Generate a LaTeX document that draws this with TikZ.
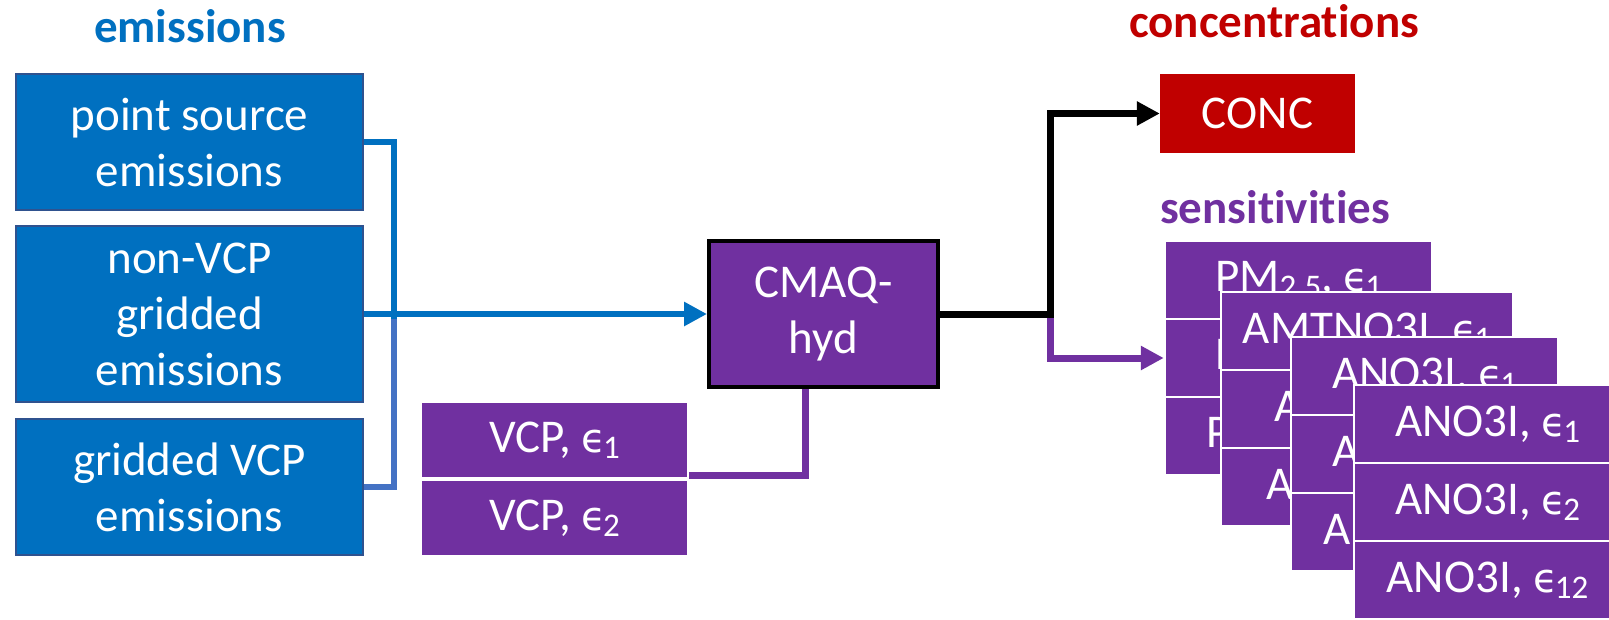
\documentclass[tikz,border=0pt]{standalone}
\usepackage{fontspec}
\setmainfont{Carlito}[Ligatures={NoCommon,NoContextual}]
\newfontfamily\epsfont{DejaVu Sans}
\usetikzlibrary{arrows.meta,calc}
\definecolor{eblue}{HTML}{0070C0}
\definecolor{eborder}{HTML}{2F528F}
\definecolor{lblue}{HTML}{4472C4}
\definecolor{ppl}{HTML}{7030A0}
\definecolor{cred}{HTML}{C00000}
\newcommand{\sbs}[1]{\raisebox{-6pt}{\fontsize{33}{33}\selectfont #1}}
\newcommand{\myeps}[1]{{\epsfont\fontsize{40}{50}\selectfont ϵ}\kern-3pt\sbs{#1}}
\begin{document}
\begin{tikzpicture}[x=1pt,y=-1pt,
  body/.style={font=\fontsize{47}{56}\selectfont, text=white, align=center, inner sep=0pt},
  ttl/.style={font=\fontsize{47}{56}\selectfont\bfseries, inner sep=0pt, anchor=base},
  ebox/.style={body, fill=eblue, draw=eborder, line width=1.5pt, minimum width=347pt},
  prow/.style={body, fill=ppl, draw=white, line width=2.5pt, minimum height=78pt},
  tip/.style={-{Triangle[length=23pt,width=23pt]}},
  bline/.style={draw=eblue, line width=6pt},
  lbline/.style={draw=lblue, line width=6pt},
  kline/.style={draw=black, line width=7pt},
  pline/.style={draw=ppl, line width=7pt}]
\clip (0,0) rectangle (1609,619);
\fill[white] (0,0) rectangle (1609,619);

% titles
\node[ttl, text=eblue] (te) at (190,42) {emissions};
\node[ttl, text=cred] (tc) at (1274,37) {concentrations};
\node[ttl, text=ppl] (ts) at (1275,223) {sensitivities};

% emission boxes
\node[ebox, minimum height=136pt] (e1) at (189.5,142) {point source\\emissions};
\node[ebox, minimum height=176pt] (e2) at (189.5,314) {non-VCP\\gridded\\emissions};
\node[ebox, minimum height=136pt] (e3) at (189.5,487) {gridded VCP\\emissions};

% model box
\node[body, fill=ppl, draw=black, line width=4pt, minimum width=229pt, minimum height=146pt] (cm) at (823.5,314) {CMAQ-\\hyd};

% VCP boxes
\node[prow, minimum width=267pt, minimum height=77pt] (v1) at (554.5,440) {VCP, \myeps{1}};
\node[prow, minimum width=267pt, minimum height=77pt] (v2) at (554.5,518) {VCP, \myeps{2}};

% CONC
\node[body, fill=cred, minimum width=195pt, minimum height=79pt] (conc) at (1257.5,113.5) {CONC};

% sensitivity stacks
\node[prow, minimum width=267pt] (s11) at (1298.5,280) {PM\sbs{2.5}, \myeps{1}};
\node[prow, minimum width=267pt] (s12) at (1298.5,358) {PM\sbs{2.5}, \myeps{2}};
\node[prow, minimum width=267pt] (s13) at (1298.5,436) {PM\sbs{2.5}, \myeps{12}};

\node[prow, minimum width=292pt] (s21) at (1367,331) {AMTNO3I, \myeps{1}};
\node[prow, minimum width=292pt] (s22) at (1367,409) {ANO3I, \myeps{2}};
\node[prow, minimum width=292pt] (s23) at (1367,487) {ANO3I, \myeps{12}};

\node[prow, minimum width=267pt] (s31) at (1424.5,376) {ANO3I, \myeps{1}};
\node[prow, minimum width=267pt] (s32) at (1424.5,454) {ANO3I, \myeps{2}};
\node[prow, minimum width=267pt] (s33) at (1424.5,532) {ANO3I, \myeps{12}};

\node[prow, minimum width=267pt] (s41) at (1487.5,424) {ANO3I, \myeps{1}};
\node[prow, minimum width=267pt] (s42) at (1487.5,502) {ANO3I, \myeps{2}};
\node[prow, minimum width=267pt] (s43) at (1487.5,580) {ANO3I, \myeps{12}};

% connectors on the left
\coordinate (j) at (394,314);
\draw[lbline] (e3.east) -| (j);
\draw[bline] (e1.east) -| ($(j)+(0,5)$);
\draw[bline, tip] (e2.east) -- (cm.west);

% VCP to model
\coordinate (vj) at ($(v1.south east)+(0,-4)$);
\coordinate (cmb) at ($(cm.south)+(-18,0)$);
\draw[pline] (vj) -| (cmb);

% outputs
\coordinate (bj) at (1050,314);
\draw[pline, tip] (bj) |- (s12.west);
\draw[kline, tip] (cm.east) -- (bj) |- (conc.west);
\end{tikzpicture}
\end{document}
